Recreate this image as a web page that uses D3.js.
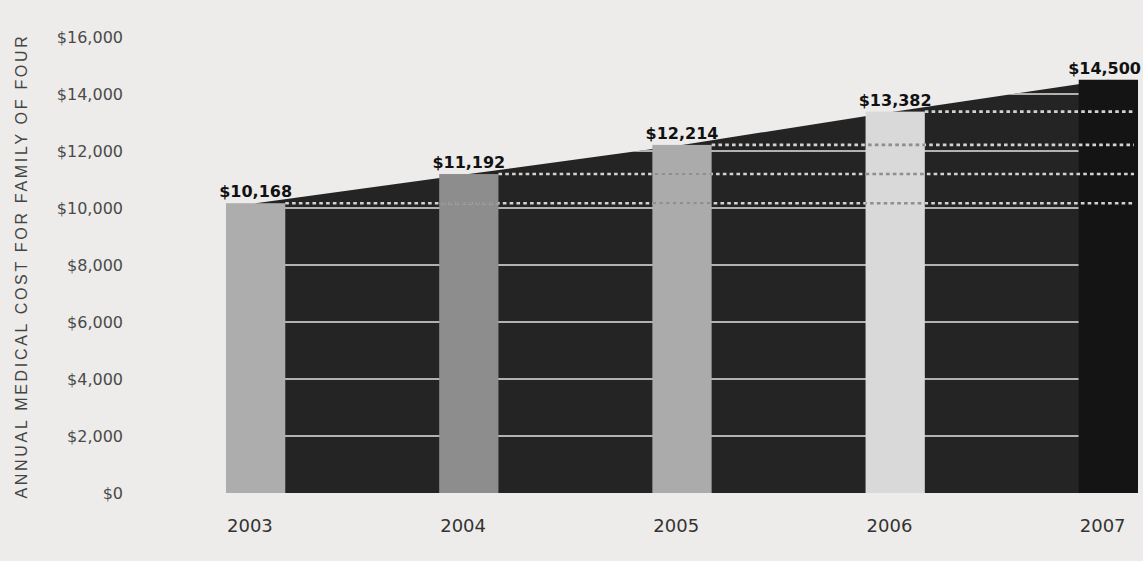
<!DOCTYPE html>
<html>
<head>
<meta charset="utf-8">
<script src="https://cdn.jsdelivr.net/npm/d3@7"></script>
<style>
  html, body { margin: 0; padding: 0; background: #edecea; }
  svg { display: block; }
</style>
</head>
<body>
<svg id="chart" width="1143" height="561"></svg>
<script>
// Annual medical cost for a family of four, 2003–2007
const years = ["2003", "2004", "2005", "2006", "2007"];
const costs = [10168, 11192, 12214, 13382, 14500];
const barFills = ["#adadad", "#8d8d8d", "#ababab", "#d9d9d9", "#141414"];
const yTicks = [0, 2000, 4000, 6000, 8000, 10000, 12000, 14000, 16000];
const gridValues = [2000, 4000, 6000, 8000, 10000, 12000, 14000];
const axisTitle = "ANNUAL MEDICAL COST FOR FAMILY OF FOUR";

const svg = d3.select("#chart");
const W = 1143, H = 561;

const x = d3.scaleBand().domain(years).range([226, 1138]).paddingInner(0.722).paddingOuter(0);
const y = d3.scaleLinear().domain([0, 16000]).range([493, 37]);
const bw = x.bandwidth();
const cx = d => x(d) + bw / 2;
const dollars = v => "$" + d3.format(",")(v);
const rows = years.map((yr, i) => ({ year: yr, value: costs[i], fill: barFills[i], i }));

const defs = svg.append("defs");

// Dark band connecting the tops of consecutive bars
const area = d3.area()
  .x(d => cx(d.year))
  .y0(y(0))
  .y1(d => y(d.value))
  .curve(d3.curveLinear);

defs.append("clipPath").attr("id", "areaClip")
  .append("path").attr("d", area(rows));

svg.append("path")
  .attr("d", area(rows))
  .attr("fill", "#242424");

// Solid gridlines, visible only inside the dark band
svg.append("g").attr("clip-path", "url(#areaClip)")
  .selectAll("line").data(gridValues).join("line")
  .attr("x1", x(years[0])).attr("x2", x(years[4]))
  .attr("y1", d => y(d)).attr("y2", d => y(d))
  .attr("stroke", "#e2e2e2").attr("stroke-width", 1.6);

// Bars
svg.append("g").selectAll("rect").data(rows).join("rect")
  .attr("x", d => x(d.year)).attr("width", bw)
  .attr("y", d => y(d.value)).attr("height", d => y(0) - y(d.value))
  .attr("fill", d => d.fill);

// Clip for the lighter bars, used to tint dotted lines that cross them
const lightClip = defs.append("clipPath").attr("id", "lightBars");
lightClip.selectAll("rect").data(rows.slice(0, 4)).join("rect")
  .attr("x", d => x(d.year)).attr("width", bw)
  .attr("y", d => y(d.value)).attr("height", d => y(0) - y(d.value));

// Dotted reference lines from each earlier year's level
const refRows = rows.slice(0, 4);
const xEnd = x(years[4]) + bw - 4;
const dots = svg.append("g");
dots.selectAll("line.light").data(refRows).join("line")
  .attr("class", "light")
  .attr("x1", d => x(d.year) + bw).attr("x2", xEnd)
  .attr("y1", d => y(d.value)).attr("y2", d => y(d.value))
  .attr("stroke", "#d2d2d2").attr("stroke-width", 2.6)
  .attr("stroke-dasharray", "3.6 3.2");
dots.append("g").attr("clip-path", "url(#lightBars)")
  .selectAll("line").data(refRows).join("line")
  .attr("x1", d => x(d.year) + bw).attr("x2", xEnd)
  .attr("y1", d => y(d.value)).attr("y2", d => y(d.value))
  .attr("stroke", "#8f8f8f").attr("stroke-width", 2.6)
  .attr("stroke-dasharray", "3.6 3.2");

// Value labels above each bar, kept inside the right edge
const vLabels = svg.append("g").selectAll("text").data(rows).join("text")
  .attr("x", d => cx(d.year))
  .attr("y", d => y(d.value) - 6)
  .attr("text-anchor", "middle")
  .attr("font-family", "'DejaVu Sans', sans-serif")
  .attr("font-weight", "bold")
  .attr("font-size", 16)
  .attr("fill", "#111")
  .text(d => dollars(d.value));
vLabels.each(function (d) {
  const len = this.getComputedTextLength();
  const right = cx(d.year) + len / 2;
  if (right > W - 2) d3.select(this).attr("x", W - 2 - len / 2);
});

// Y axis tick labels
const yAxis = d3.axisLeft(y).tickValues(yTicks).tickSize(0).tickPadding(0).tickFormat(dollars);
const gy = svg.append("g").attr("transform", "translate(123,0)").call(yAxis);
gy.select(".domain").remove();
gy.selectAll("text")
  .attr("font-family", "'DejaVu Sans', sans-serif")
  .attr("font-size", 16)
  .attr("fill", "#4a4a4a");

// X axis year labels, aligned to each bar's left edge
const xAxis = d3.axisBottom(x).tickSize(0).tickPadding(0);
const gx = svg.append("g").attr("transform", "translate(0,532)").call(xAxis);
gx.select(".domain").remove();
gx.selectAll(".tick").attr("transform", d => `translate(${x(d) + 1},0)`);
gx.selectAll("text")
  .attr("text-anchor", "start")
  .attr("dy", 0).attr("y", 0)
  .attr("font-family", "'DejaVu Sans', sans-serif")
  .attr("font-size", 18)
  .attr("fill", "#333");

// Vertical axis title
svg.append("text")
  .attr("transform", "translate(27,266) rotate(-90)")
  .attr("text-anchor", "middle")
  .attr("font-family", "'Liberation Sans', Arial, sans-serif")
  .attr("font-size", 16)
  .attr("letter-spacing", 2.7)
  .attr("fill", "#444")
  .text(axisTitle);
</script>
</body>
</html>
